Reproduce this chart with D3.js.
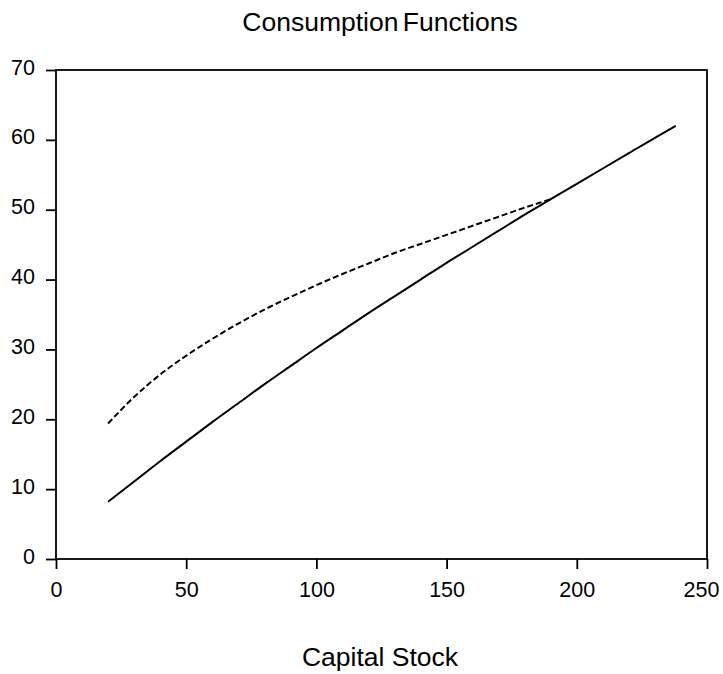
<!DOCTYPE html>
<html>
<head>
<meta charset="utf-8">
<script src="https://cdn.jsdelivr.net/npm/d3@7"></script>
<style>
  body { margin: 0; background: #fff; }
  text { font-family: "Liberation Sans", Arial, sans-serif; fill: #000; }
</style>
</head>
<body>
<div id="chart"></div>
<script>
// capital stock grid and the two consumption functions
const capitalSolid = [20, 30, 40, 50, 60, 70, 80, 90, 100, 110, 120, 130, 140, 150, 160, 170, 180, 190, 200, 210, 220, 230, 238];
const consSolid = [8.2, 11.1, 14.0, 16.8, 19.6, 22.3, 25.0, 27.6, 30.2, 32.7, 35.2, 37.6, 40.0, 42.4, 44.7, 47.0, 49.3, 51.5, 53.7, 55.9, 58.1, 60.3, 62.0];

const capitalDashed = [20, 30, 40, 50, 60, 70, 80, 90, 100, 110, 120, 130, 140, 150, 160, 170, 180, 190];
const consDashed = [19.4, 23.2, 26.4, 29.1, 31.5, 33.7, 35.7, 37.5, 39.2, 40.8, 42.3, 43.8, 45.1, 46.4, 47.7, 49.0, 50.3, 51.5];

const xTicks = [0, 50, 100, 150, 200, 250];
const yTicks = [0, 10, 20, 30, 40, 50, 60, 70];

const width = 723, height = 674;
const margin = {top: 70, right: 16, bottom: 115, left: 56};

const svg = d3.select("#chart").append("svg")
    .attr("width", width)
    .attr("height", height);

const x = d3.scaleLinear().domain([0, 250]).range([margin.left, width - margin.right]);
const y = d3.scaleLinear().domain([0, 70]).range([height - margin.bottom, margin.top]);

// title
svg.append("text")
    .attr("x", 380)
    .attr("y", 31)
    .attr("text-anchor", "middle")
    .attr("font-size", "26.5px")
    .attr("word-spacing", "-3px")
    .text("Consumption Functions");

// x axis
const gx = svg.append("g")
    .attr("transform", `translate(0,${height - margin.bottom})`)
    .call(d3.axisBottom(x).tickValues(xTicks).tickSize(10).tickSizeOuter(0));
gx.select(".domain").remove();
gx.selectAll(".tick line").attr("stroke", "#000").attr("stroke-width", 1.8);
gx.selectAll(".tick text")
    .attr("y", 38).attr("dy", 0)
    .attr("dx", d => d === 250 ? -6 : 0)
    .attr("font-size", "21.5px")
    .attr("font-family", "Liberation Sans, Arial, sans-serif");

// y axis
const gy = svg.append("g")
    .attr("transform", `translate(${margin.left},0)`)
    .call(d3.axisLeft(y).tickValues(yTicks).tickSize(10).tickSizeOuter(0));
gy.select(".domain").remove();
gy.selectAll(".tick line").attr("stroke", "#000").attr("stroke-width", 1.8);
gy.selectAll(".tick text")
    .attr("x", -21).attr("dy", 4)
    .attr("font-size", "21.5px")
    .attr("font-family", "Liberation Sans, Arial, sans-serif");

// frame
svg.append("rect")
    .attr("x", x(0))
    .attr("y", y(70))
    .attr("width", x(250) - x(0))
    .attr("height", y(0) - y(70))
    .attr("fill", "none")
    .attr("stroke", "#000")
    .attr("stroke-width", 1.8);

const line = d3.line()
    .x(d => x(d[0]))
    .y(d => y(d[1]))
    .curve(d3.curveMonotoneX);

svg.append("path")
    .datum(d3.zip(capitalDashed, consDashed))
    .attr("d", line)
    .attr("fill", "none")
    .attr("stroke", "#000")
    .attr("stroke-width", 2)
    .attr("stroke-dasharray", "6,3");

svg.append("path")
    .datum(d3.zip(capitalSolid, consSolid))
    .attr("d", line)
    .attr("fill", "none")
    .attr("stroke", "#000")
    .attr("stroke-width", 2);

// x axis label
svg.append("text")
    .attr("x", 380)
    .attr("y", 666)
    .attr("text-anchor", "middle")
    .attr("font-size", "26.5px")
    .text("Capital Stock");
</script>
</body>
</html>
